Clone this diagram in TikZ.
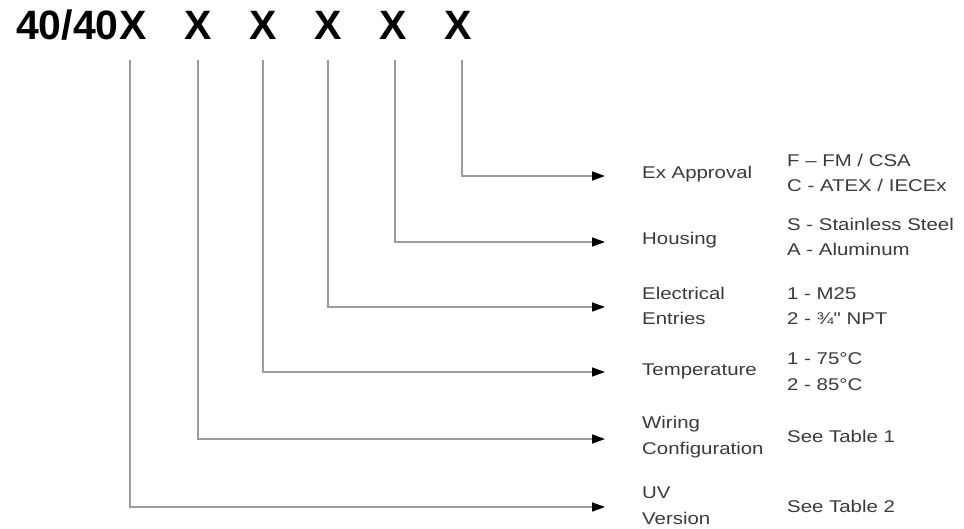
\documentclass[tikz,border=0pt]{standalone}
\usepackage{fontspec}
\usetikzlibrary{arrows.meta}
\newfontfamily\lblfont[FakeStretch=1.2]{Liberation Sans}
\newfontfamily\ttlfont{Liberation Sans}
\definecolor{linegray}{HTML}{9C9C9C}
\definecolor{txtgray}{HTML}{3A3A3A}
\tikzset{
  ttl/.style={font=\ttlfont\bfseries\fontsize{41}{41}\selectfont, inner sep=0pt, text=black},
  lbl/.style={font=\lblfont\fontsize{17}{25.5}\selectfont, inner sep=0pt, anchor=west, align=left, text=txtgray},
  conn/.style={draw=linegray, line width=1.5pt, -{Triangle[length=13pt,width=9pt,color=black]}},
}
\begin{document}
\begin{tikzpicture}[x=1pt,y=-1pt]
\useasboundingbox (0,0) rectangle (964,529);
% title
\node[ttl, anchor=base east] (t0) at (119,40) {40/40};
\node[ttl, anchor=base] (x1) at (133,40) {X};
\node[ttl, anchor=base] (x2) at (198,40) {X};
\node[ttl, anchor=base] (x3) at (263,40) {X};
\node[ttl, anchor=base] (x4) at (328,40) {X};
\node[ttl, anchor=base] (x5) at (393,40) {X};
\node[ttl, anchor=base] (x6) at (458,40) {X};
% start points of connectors
\coordinate (s1) at (130,60);
\coordinate (s2) at (198,60);
\coordinate (s3) at (263,60);
\coordinate (s4) at (328,60);
\coordinate (s5) at (395,60);
\coordinate (s6) at (462,60);
% labels
\node[lbl] (l6) at (642,174.5) {Ex Approval};
\node[lbl] (l5) at (642,240.5) {Housing};
\node[lbl] (l4) at (642,306) {Electrical\\Entries};
\node[lbl] (l3) at (642,371.5) {Temperature};
\node[lbl] (l2) at (642,437) {Wiring\\Configuration};
\node[lbl] (l1) at (642,505.5) {UV\\Version};
% options
\node[lbl] (o6) at (787,173) {F – FM / CSA\\C - ATEX / IECEx};
\node[lbl] (o5) at (787,237) {S - Stainless Steel\\A - Aluminum};
\node[lbl] (o4) at (787,306) {1 - M25\\2 - ¾" NPT};
\node[lbl] (o3) at (787,371.5) {1 - 75°C\\2 - 85°C};
\node[lbl] (o2) at (787,436.5) {See Table 1};
\node[lbl] (o1) at (787,506.5) {See Table 2};
% connectors
\draw[conn] (s6) |- ([xshift=-37pt,yshift=-1.5pt]l6.west);
\draw[conn] (s5) |- ([xshift=-37pt,yshift=-1.5pt]l5.west);
\draw[conn] (s4) |- ([xshift=-37pt,yshift=-1pt]l4.west);
\draw[conn] (s3) |- ([xshift=-37pt,yshift=-0.5pt]l3.west);
\draw[conn] (s2) |- ([xshift=-37pt,yshift=-2pt]l2.west);
\draw[conn] (s1) |- ([xshift=-37pt,yshift=-1.5pt]l1.west);
\end{tikzpicture}
\end{document}
